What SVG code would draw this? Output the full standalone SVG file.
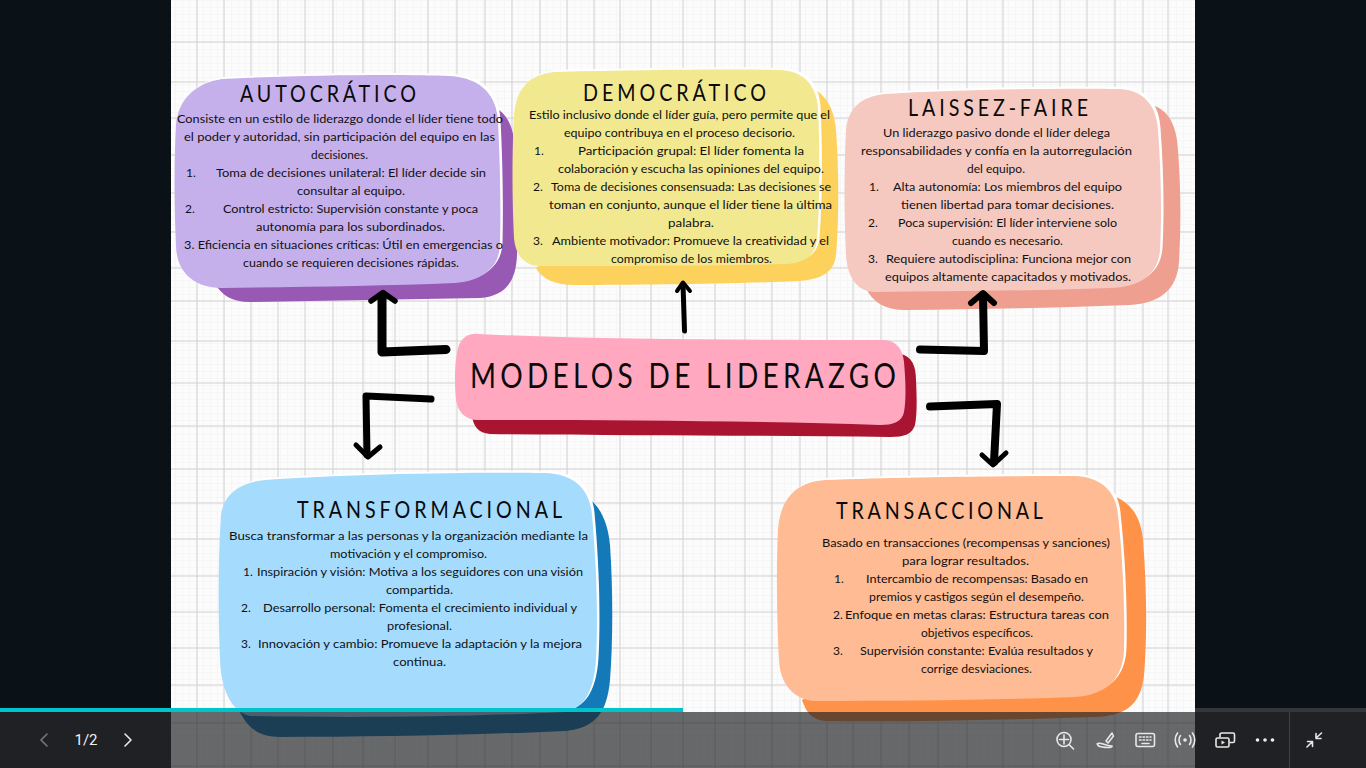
<svg xmlns="http://www.w3.org/2000/svg" width="1366" height="768" viewBox="0 0 1366 768">
<style>
.b{font-family:"Lato","Noto Sans",sans-serif;font-size:12px;fill:#111;letter-spacing:0}
.t{font-family:"Lato","Noto Sans",sans-serif;fill:#0a0a0a}
.h{font-size:24px}
.r{fill:#fff}
.a{fill:none;stroke:#000;stroke-linecap:round;stroke-linejoin:round}
.i{fill:none;stroke:#e8e8e8;stroke-width:1.6;stroke-linecap:round;stroke-linejoin:round}
</style>
<defs>
<pattern id="fine" width="7" height="7" patternUnits="userSpaceOnUse"><path d="M0 .5H7M.5 0V7" fill="none" stroke="#f6f6f6" stroke-width="1"/></pattern>
</defs>
<rect id="stage" width="1366" height="768" fill="#0b1217"/>
<g id="slide-background">
<rect x="171" y="0" width="1024" height="768" fill="#fcfcfc"/>
<rect x="171" y="0" width="1024" height="768" fill="url(#fine)"/>
<path fill="none" stroke="#d0d0d0" stroke-width="1" d="M197 0V768M224 0V768M251 0V768M278 0V768M305 0V768M333 0V768M363 0V768M395 0V768M428 0V768M457 0V768M485 0V768M512 0V768M540 0V768M567 0V768M594 0V768M620 0V768M651 0V768M683 0V768M715 0V768M745 0V768M772 0V768M800 0V768M827 0V768M853 0V768M881 0V768M909 0V768M938 0V768M967 0V768M1003 0V768M1033 0V768M1060 0V768M1087 0V768M1115 0V768M1143 0V768M1168 0V768M171 42H1195M171 82H1195M171 118H1195M171 155H1195M171 193H1195M171 232H1195M171 268H1195M171 301H1195M171 341H1195M171 383H1195M171 426H1195M171 469H1195M171 503H1195M171 539H1195M171 576H1195M171 612H1195M171 648H1195M171 685H1195M171 723H1195M171 766H1195"/>
</g>
<g id="node-autocratico">
<path fill="#9759b3" d="M490 105C508 112 514 128 515 150C518 190 518 225 517 255C516 282 505 296 480 298L250 302C232 302 222 296 214 282Z"/>
<path class="r" transform="translate(2.500 -2)" d="M222 79C300 75 400 74 450 76C482 78 497 96 498 122C500 160 501 205 500 245C499 268 482 281 455 283C380 286 300 287 222 288C192 288 176 270 176 245C174 205 174 160 176 125C178 100 195 83 222 79Z"/>
<path fill="#c6b0ec" d="M222 79C300 75 400 74 450 76C482 78 497 96 498 122C500 160 501 205 500 245C499 268 482 281 455 283C380 286 300 287 222 288C192 288 176 270 176 245C174 205 174 160 176 125C178 100 195 83 222 79Z"/>
<text class="t h" transform="translate(240 102) scale(.82 1)" textLength="214.600" lengthAdjust="spacing">AUTOCRÁTICO</text>
<text class="b" x="177" y="123" textLength="326" lengthAdjust="spacingAndGlyphs">Consiste en un estilo de liderazgo donde el líder tiene todo</text>
<text class="b" x="184" y="141" textLength="311" lengthAdjust="spacingAndGlyphs">el poder y autoridad, sin participación del equipo en las</text>
<text class="b" x="311" y="159" textLength="57" lengthAdjust="spacingAndGlyphs">decisiones.</text>
<text class="b" x="186" y="177">1.</text>
<text class="b" x="216" y="177" textLength="270" lengthAdjust="spacingAndGlyphs">Toma de decisiones unilateral: El líder decide sin</text>
<text class="b" x="297" y="195" textLength="108" lengthAdjust="spacingAndGlyphs">consultar al equipo.</text>
<text class="b" x="185" y="213">2.</text>
<text class="b" x="223" y="213" textLength="255" lengthAdjust="spacingAndGlyphs">Control estricto: Supervisión constante y poca</text>
<text class="b" x="256" y="231" textLength="189" lengthAdjust="spacingAndGlyphs">autonomía para los subordinados.</text>
<text class="b" x="184" y="249" textLength="319" lengthAdjust="spacingAndGlyphs">3. Eficiencia en situaciones críticas: Útil en emergencias o</text>
<text class="b" x="243" y="267" textLength="216" lengthAdjust="spacingAndGlyphs">cuando se requieren decisiones rápidas.</text>
</g>
<g id="node-democratico">
<path fill="#fdd25c" d="M810 87C826 94 834 108 836 130C839 170 839 220 836 255C834 272 822 279 800 281C730 284 640 285 575 285C555 285 542 279 536 268Z"/>
<path class="r" transform="translate(2.500 -2)" d="M555 72C640 70 720 69 780 70C803 71 816 84 818 108C820 150 820 200 817 240C815 256 805 263 785 264C700 266 620 266 540 266C524 266 515 254 514 238C512 200 512 150 514 115C516 88 530 74 555 72Z"/>
<path fill="#f2e890" d="M555 72C640 70 720 69 780 70C803 71 816 84 818 108C820 150 820 200 817 240C815 256 805 263 785 264C700 266 620 266 540 266C524 266 515 254 514 238C512 200 512 150 514 115C516 88 530 74 555 72Z"/>
<text class="t h" transform="translate(583 101) scale(.82 1)" textLength="223.200" lengthAdjust="spacing">DEMOCRÁTICO</text>
<text class="b" x="529" y="119" textLength="301" lengthAdjust="spacingAndGlyphs">Estilo inclusivo donde el líder guía, pero permite que el</text>
<text class="b" x="564" y="137" textLength="231" lengthAdjust="spacingAndGlyphs">equipo contribuya en el proceso decisorio.</text>
<text class="b" x="534" y="155">1.</text>
<text class="b" x="578" y="155" textLength="226" lengthAdjust="spacingAndGlyphs">Participación grupal: El líder fomenta la</text>
<text class="b" x="558" y="173" textLength="266" lengthAdjust="spacingAndGlyphs">colaboración y escucha las opiniones del equipo.</text>
<text class="b" x="533" y="191">2.</text>
<text class="b" x="551" y="191" textLength="280" lengthAdjust="spacingAndGlyphs">Toma de decisiones consensuada: Las decisiones se</text>
<text class="b" x="549" y="209" textLength="283" lengthAdjust="spacingAndGlyphs">toman en conjunto, aunque el líder tiene la última</text>
<text class="b" x="668" y="227" textLength="46" lengthAdjust="spacingAndGlyphs">palabra.</text>
<text class="b" x="533" y="245">3.</text>
<text class="b" x="552" y="245" textLength="277" lengthAdjust="spacingAndGlyphs">Ambiente motivador: Promueve la creatividad y el</text>
<text class="b" x="611" y="263" textLength="161" lengthAdjust="spacingAndGlyphs">compromiso de los miembros.</text>
</g>
<g id="node-laissez-faire">
<path fill="#ef9f90" d="M1155 106C1170 112 1177 128 1178 150C1181 190 1181 225 1179 262C1177 290 1160 303 1130 305C1050 308 980 309 905 310C885 310 872 302 866 288Z"/>
<path class="r" transform="translate(2.500 -2)" d="M885 94C950 90 1050 88 1120 89C1145 90 1157 108 1158 130C1161 170 1162 215 1160 250C1158 275 1140 287 1110 288C1030 291 950 291 875 292C856 292 847 275 846 255C844 215 844 170 846 130C848 108 862 96 885 94Z"/>
<path fill="#f5c8c0" d="M885 94C950 90 1050 88 1120 89C1145 90 1157 108 1158 130C1161 170 1162 215 1160 250C1158 275 1140 287 1110 288C1030 291 950 291 875 292C856 292 847 275 846 255C844 215 844 170 846 130C848 108 862 96 885 94Z"/>
<text class="t h" transform="translate(908 116) scale(.82 1)" textLength="219.500" lengthAdjust="spacing">LAISSEZ-FAIRE</text>
<text class="b" x="883" y="137" textLength="227" lengthAdjust="spacingAndGlyphs">Un liderazgo pasivo donde el líder delega</text>
<text class="b" x="861" y="155" textLength="271" lengthAdjust="spacingAndGlyphs">responsabilidades y confía en la autorregulación</text>
<text class="b" x="967" y="173" textLength="58" lengthAdjust="spacingAndGlyphs">del equipo.</text>
<text class="b" x="869" y="191">1.</text>
<text class="b" x="893" y="191" textLength="229" lengthAdjust="spacingAndGlyphs">Alta autonomía: Los miembros del equipo</text>
<text class="b" x="901" y="209" textLength="213" lengthAdjust="spacingAndGlyphs">tienen libertad para tomar decisiones.</text>
<text class="b" x="868" y="227">2.</text>
<text class="b" x="898" y="227" textLength="219" lengthAdjust="spacingAndGlyphs">Poca supervisión: El líder interviene solo</text>
<text class="b" x="952" y="245" textLength="111" lengthAdjust="spacingAndGlyphs">cuando es necesario.</text>
<text class="b" x="868" y="263">3.</text>
<text class="b" x="886" y="263" textLength="245" lengthAdjust="spacingAndGlyphs">Requiere autodisciplina: Funciona mejor con</text>
<text class="b" x="885" y="281" textLength="246" lengthAdjust="spacingAndGlyphs">equipos altamente capacitados y motivados.</text>
</g>
<g id="node-modelos">
<path fill="#a91430" d="M900 354C912 356 916 366 916 380C917 400 917 415 915 425C912 434 905 437 890 437C760 435 620 436 490 434C478 433 473 426 472 415Z"/>
<path fill="#ffa8bf" d="M478 334C600 340 760 340 885 340C897 341 903 350 904 362C906 385 906 400 904 412C902 422 893 425 880 425C760 421 620 420 478 420C465 420 458 412 456 400C454 380 455 360 458 348C461 338 468 333 478 334Z"/>
<text class="t" font-size="35" transform="translate(470 388) scale(.8 1)" textLength="532.500" lengthAdjust="spacing">MODELOS DE LIDERAZGO</text>
</g>
<g id="node-transformacional">
<path fill="#1379b9" d="M588 498C602 508 608 525 610 545C613 590 613 640 610 680C607 712 596 728 565 731C470 735 370 737 280 737C258 737 245 727 237 705Z"/>
<path class="r" transform="translate(2.500 -2)" d="M265 480C350 474 470 472 545 473C575 474 590 490 592 515C597 570 598 620 596 660C594 690 585 708 565 712C470 717 350 718 250 716C232 712 221 690 220 660C218 610 218 560 221 515C223 495 240 482 265 480Z"/>
<path fill="#a5dcfe" d="M265 480C350 474 470 472 545 473C575 474 590 490 592 515C597 570 598 620 596 660C594 690 585 708 565 712C470 717 350 718 250 716C232 712 221 690 220 660C218 610 218 560 221 515C223 495 240 482 265 480Z"/>
<text class="t h" transform="translate(297 518) scale(.82 1)" textLength="323.200" lengthAdjust="spacing">TRANSFORMACIONAL</text>
<text class="b" x="229" y="540" textLength="359" lengthAdjust="spacingAndGlyphs">Busca transformar a las personas y la organización mediante la</text>
<text class="b" x="330" y="558" textLength="157" lengthAdjust="spacingAndGlyphs">motivación y el compromiso.</text>
<text class="b" x="243" y="576">1.</text>
<text class="b" x="257" y="576" textLength="326" lengthAdjust="spacingAndGlyphs">Inspiración y visión: Motiva a los seguidores con una visión</text>
<text class="b" x="386" y="594" textLength="67" lengthAdjust="spacingAndGlyphs">compartida.</text>
<text class="b" x="241" y="612">2.</text>
<text class="b" x="263" y="612" textLength="314" lengthAdjust="spacingAndGlyphs">Desarrollo personal: Fomenta el crecimiento individual y</text>
<text class="b" x="387" y="630" textLength="65" lengthAdjust="spacingAndGlyphs">profesional.</text>
<text class="b" x="241" y="648">3.</text>
<text class="b" x="258" y="648" textLength="324" lengthAdjust="spacingAndGlyphs">Innovación y cambio: Promueve la adaptación y la mejora</text>
<text class="b" x="393" y="666" textLength="53" lengthAdjust="spacingAndGlyphs">continua.</text>
</g>
<g id="node-transaccional">
<path fill="#ff9249" d="M1116 497C1132 504 1141 518 1143 540C1147 590 1147 640 1144 675C1141 705 1125 716 1095 717C1000 720 910 722 825 721C812 720 806 712 802 700Z"/>
<path class="r" transform="translate(2.500 -2)" d="M825 480C900 477 1000 476 1075 476C1100 477 1116 490 1118 515C1123 560 1125 610 1124 650C1123 680 1105 695 1075 697C1000 700 900 701 815 701C795 700 780 685 779 660C777 620 776 570 778 530C780 500 795 482 825 480Z"/>
<path fill="#ffbb94" d="M825 480C900 477 1000 476 1075 476C1100 477 1116 490 1118 515C1123 560 1125 610 1124 650C1123 680 1105 695 1075 697C1000 700 900 701 815 701C795 700 780 685 779 660C777 620 776 570 778 530C780 500 795 482 825 480Z"/>
<text class="t h" transform="translate(836 519) scale(.82 1)" textLength="252.400" lengthAdjust="spacing">TRANSACCIONAL</text>
<text class="b" x="822" y="547" textLength="288" lengthAdjust="spacingAndGlyphs">Basado en transacciones (recompensas y sanciones)</text>
<text class="b" x="902" y="565" textLength="127" lengthAdjust="spacingAndGlyphs">para lograr resultados.</text>
<text class="b" x="834" y="583">1.</text>
<text class="b" x="866" y="583" textLength="222" lengthAdjust="spacingAndGlyphs">Intercambio de recompensas: Basado en</text>
<text class="b" x="869" y="601" textLength="215" lengthAdjust="spacingAndGlyphs">premios y castigos según el desempeño.</text>
<text class="b" x="833" y="619">2.</text>
<text class="b" x="845" y="619" textLength="264" lengthAdjust="spacingAndGlyphs">Enfoque en metas claras: Estructura tareas con</text>
<text class="b" x="921" y="637" textLength="112" lengthAdjust="spacingAndGlyphs">objetivos específicos.</text>
<text class="b" x="833" y="655">3.</text>
<text class="b" x="860" y="655" textLength="233" lengthAdjust="spacingAndGlyphs">Supervisión constante: Evalúa resultados y</text>
<text class="b" x="921" y="673" textLength="111" lengthAdjust="spacingAndGlyphs">corrige desviaciones.</text>
</g>
<g id="connectors">
<polyline class="a" stroke-width="9" points="446,349.500 382,352 382,296"/>
<polyline class="a" stroke-width="5.500" points="371,301 383,292.500 395,301"/>
<polyline class="a" stroke-width="5" points="684.500,331 683,284"/>
<polyline class="a" stroke-width="4" points="677,291 683,282.500 690,291"/>
<polyline class="a" stroke-width="8" points="920,349.500 984,351 983,295"/>
<polyline class="a" stroke-width="6" points="971,303 983,293 994,303"/>
<polyline class="a" stroke-width="7" points="431,399 366,396 367,455"/>
<polyline class="a" stroke-width="5" points="356,445 368,457 380,447"/>
<polyline class="a" stroke-width="8" points="930,406.500 997,404 994,462"/>
<polyline class="a" stroke-width="5" points="982,455 993,465 1006,453"/>
</g>
<g id="viewer-chrome">
<rect x="171" y="712" width="1024" height="56" fill="#202124" fill-opacity=".67"/>
<rect x="0" y="712" width="171" height="56" fill="#202124"/>
<rect x="1195" y="712" width="171" height="56" fill="#202124"/>
<rect x="1195" y="708" width="171" height="4" fill="#33363b"/>
<rect x="0" y="708" width="683" height="4" fill="#00c4cc"/>
<path d="M1289.500 712V768" stroke="#3f4144" fill="none"/>
<path class="i" style="stroke:#777" d="M47 734L41 740L47 746"/>
<path class="i" d="M125 734L131 740L125 746"/>
<text x="86" y="745" text-anchor="middle" font-family="Roboto,'Open Sans',sans-serif" font-size="15" fill="#f0f0f0">1/2</text>
<path class="i" d="M1064 735V744M1059.500 739.500H1068.500M1069.500 745L1073.500 749"/>
<circle class="i" cx="1064" cy="739.500" r="7"/>
<path class="i" d="M1097 744C1100 741 1104 746 1112 746C1113 749 1097 747 1098 745M1106 741L1112 733L1113.500 736L1108 743Z"/>
<rect class="i" x="1136" y="733.500" width="18.500" height="13" rx="2"/>
<path class="i" style="stroke-dasharray:1.500 2" d="M1139.500 737H1151M1139.500 740H1151"/>
<path class="i" d="M1142 743.500H1149"/>
<circle cx="1185" cy="740" r="1.800" fill="#e8e8e8"/>
<path class="i" d="M1180.500 735.500C1178.500 738 1178.500 742 1180.500 744.500M1189.500 735.500C1191.500 738 1191.500 742 1189.500 744.500M1177.500 733C1174.500 737 1174.500 743 1177.500 747M1192.500 733C1195.500 737 1195.500 743 1192.500 747"/>
<rect class="i" x="1216" y="738" width="13" height="9" rx="1.500"/>
<path class="i" d="M1220 737V734.500C1220 733.500 1221 733 1222 733H1233C1234 733 1234.500 733.500 1234.500 734.500V741C1234.500 742 1234 742.500 1233 742.500H1230"/>
<path d="M1221.500 740.500L1225 742.500L1221.500 744.500Z" fill="#e8e8e8"/>
<circle cx="1257.500" cy="740" r="1.800" fill="#f0f0f0"/>
<circle cx="1265" cy="740" r="1.800" fill="#f0f0f0"/>
<circle cx="1272.500" cy="740" r="1.800" fill="#f0f0f0"/>
<path class="i" d="M1307 747L1312 742M1307.500 741.500H1312.500V746.500M1316 738L1321.500 733M1316 733.500V738.500H1321"/>
</g>
</svg>
